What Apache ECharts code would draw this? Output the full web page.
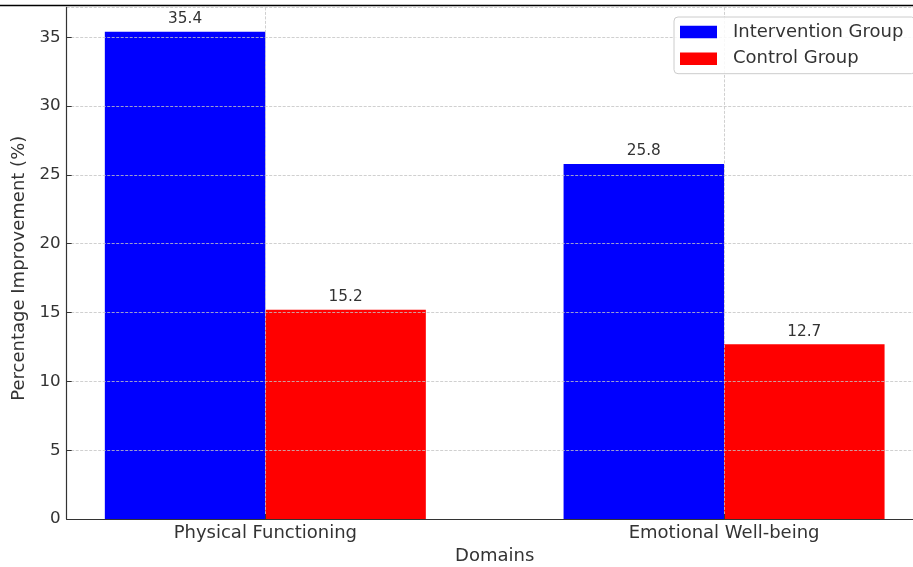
<!DOCTYPE html>
<html><head><meta charset="utf-8">
<script src="https://cdn.jsdelivr.net/npm/echarts@6/dist/echarts.min.js"></script>
<style>html,body{margin:0;padding:0;background:#fff}#c{width:913px;height:567px}</style>
</head><body><div id="c"></div>
<script>
const categories = ['Physical Functioning', 'Emotional Well-being'];
const seriesNames = ['Intervention Group', 'Control Group'];
const interventionValues = [35.4, 25.8];
const controlValues = [15.2, 12.7];
const yTickInterval = 5;
const yMax = 37.17;
const xLabelName = 'Domains';
const yLabelName = 'Percentage Improvement (%)';

const chart = echarts.init(document.getElementById('c'), null, {renderer: 'canvas'});
const font = 'DejaVu Sans';
const txt = '#333333';
const catIdx = categories.map((c, i) => i);
const pairs = vals => vals.map((v, i) => [i, v]);
const gridStyle = {type: [3, 1.5], color: '#c4c4c4', width: 0.8};

const labelOpt = {
  show: true, position: 'top', distance: 5, fontSize: 15.3, color: txt, fontFamily: font,
  formatter: p => p.value[1].toFixed(1)
};

const option = {
  animation: false,
  backgroundColor: '#ffffff',
  textStyle: {fontFamily: font},
  grid: {left: 66.7, top: 7.4, width: 856, bottom: 48, containLabel: false, outerBoundsMode: 'none'},
  xAxis: {
    type: 'value', min: -0.433, max: 1.433, z: 3,
    axisLine: {show: true, onZero: false, lineStyle: {color: '#333', width: 1.2}},
    axisTick: {show: true, inside: true, length: 5, customValues: catIdx, lineStyle: {color: '#333', width: 1}},
    axisLabel: {customValues: catIdx, formatter: v => categories[Math.round(v)], fontSize: 18, color: txt, margin: 5, fontFamily: font},
    splitLine: {show: true, lineStyle: gridStyle},
    name: xLabelName, nameLocation: 'middle', nameGap: 28,
    nameTextStyle: {fontSize: 18, color: txt, fontFamily: font}
  },
  yAxis: {
    type: 'value', min: 0, max: yMax, interval: yTickInterval, z: 3,
    axisLine: {show: true, onZero: false, lineStyle: {color: '#333', width: 1.2}},
    axisTick: {show: true, inside: true, length: 5, lineStyle: {color: '#333', width: 1}},
    axisLabel: {fontSize: 16.7, color: txt, margin: 6, fontFamily: font, showMaxLabel: false},
    splitLine: {show: true, lineStyle: gridStyle},
    name: yLabelName, nameLocation: 'middle', nameGap: 36,
    nameTextStyle: {fontSize: 18, color: txt, fontFamily: font, padding: [0, 10, 0, 0]}
  },
  legend: {
    orient: 'vertical', left: 674, top: 17,
    itemWidth: 37, itemHeight: 12.5, itemGap: 8.7, icon: 'rect',
    padding: [6, 12, 6, 6],
    backgroundColor: 'rgba(255,255,255,0.85)', borderColor: '#cccccc', borderWidth: 1, borderRadius: 4,
    textStyle: {fontSize: 18, color: txt, fontFamily: font, padding: [0, 0, 0, 11]},
    data: seriesNames
  },
  graphic: [{
    type: 'line', shape: {x1: 0, y1: 5.5, x2: 913, y2: 5.5},
    style: {stroke: '#000', lineWidth: 1.6}, z: 100
  }],
  series: [
    {name: seriesNames[0], type: 'bar', data: pairs(interventionValues), barWidth: 160.5, barGap: '0%',
     itemStyle: {color: '#0000ff'}, label: labelOpt},
    {name: seriesNames[1], type: 'bar', data: pairs(controlValues), barWidth: 160.5, barGap: '0%',
     itemStyle: {color: '#ff0000'}, label: labelOpt}
  ]
};
chart.setOption(option);
</script>
</body></html>
